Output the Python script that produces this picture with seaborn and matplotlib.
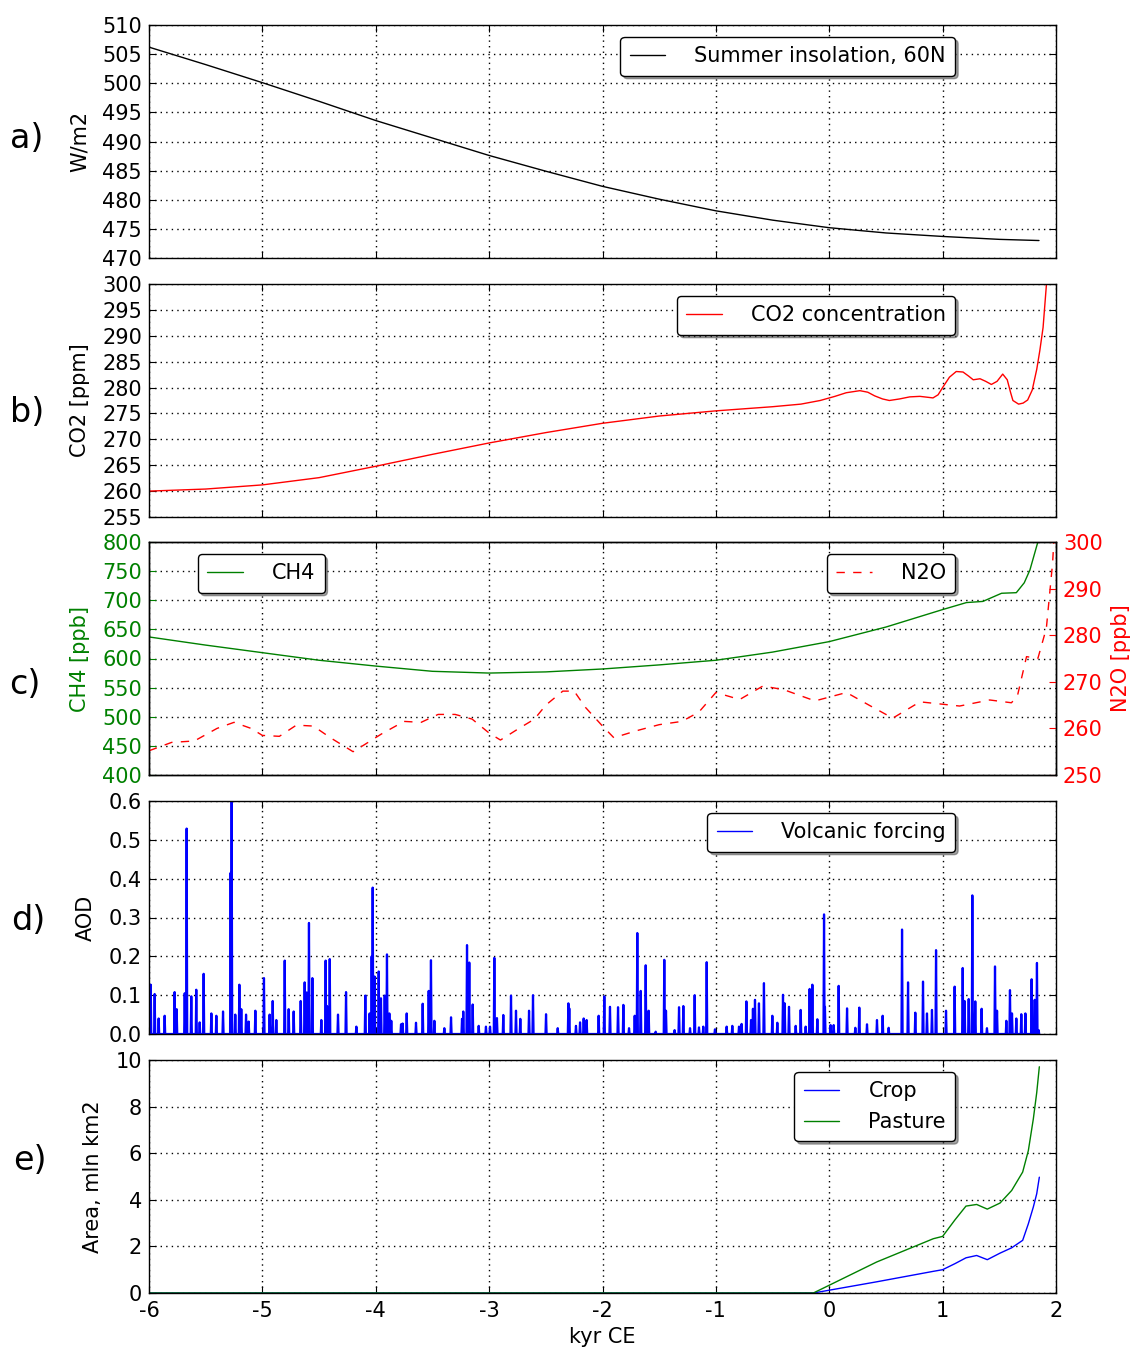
import pandas as pd
import matplotlib.pyplot as plt
import seaborn as sns

# ---- data (kyr CE) ----
ins_kyr = [-6, -5.5, -5, -4.5, -4, -3.5, -3, -2.5, -2, -1.5, -1, -0.5, 0, 0.5, 1, 1.5, 1.85]
ins_val = [506.2, 503.2, 500.1, 496.9, 493.6, 490.6, 487.6, 484.9, 482.3, 480.1, 478.1, 476.5, 475.2, 474.3, 473.7, 473.2, 473.0]

co2_kyr = [-6, -5.5, -5, -4.5, -4, -3.5, -3, -2.5, -2, -1.5, -1, -0.5, -0.25, -0.08, 0.05, 0.15, 0.27, 0.34, 0.4,
           0.47, 0.53, 0.62, 0.71, 0.8, 0.915, 0.96, 1.0, 1.06, 1.12, 1.18, 1.23, 1.27, 1.33, 1.38, 1.43, 1.48,
           1.53, 1.57, 1.6, 1.62, 1.67, 1.71, 1.75, 1.79, 1.83, 1.857, 1.886, 1.916, 1.95]
co2_val = [260.0, 260.4, 261.2, 262.6, 264.8, 267.1, 269.3, 271.3, 273.1, 274.5, 275.5, 276.3, 276.8, 277.5, 278.3, 279.0, 279.4, 279.1, 278.4,
           277.8, 277.5, 277.8, 278.2, 278.3, 278.0, 278.6, 280.0, 282.0, 283.1, 283.0, 282.2, 281.5, 281.7, 281.2, 280.6, 281.2,
           282.6, 281.5, 279.0, 277.5, 276.8, 277.0, 277.6, 279.5, 283.5, 287.1, 291.6, 300.0, 312.0]

ch4_kyr = [-6, -5.5, -5, -4.5, -4, -3.5, -3, -2.5, -2, -1.5, -1, -0.5, 0, 0.5, 1, 1.21, 1.355, 1.52, 1.65, 1.72, 1.77, 1.84, 1.9]
ch4_val = [637, 623, 610, 597, 587, 578, 575, 577, 582, 589, 597, 611, 629, 654, 684, 696, 698, 712, 713, 730, 752, 800, 880]

n2o_kyr = [-6, -5.8, -5.6, -5.4, -5.25, -5.1, -5.0, -4.85, -4.7, -4.55, -4.4, -4.3, -4.2, -4.1, -3.95, -3.75, -3.6,
           -3.45, -3.3, -3.15, -3.0, -2.9, -2.75, -2.6, -2.5, -2.35, -2.25, -2.15, -2.0, -1.9, -1.7, -1.5, -1.3,
           -1.15, -1.0, -0.79, -0.585, -0.4, -0.126, 0.152, 0.35, 0.56, 0.8, 1.15, 1.415, 1.607, 1.66, 1.74, 1.84,
           1.915, 1.97, 1.99]
n2o_val = [255.2, 257.0, 257.3, 260.0, 261.3, 260.0, 258.5, 258.3, 260.7, 260.5, 258.0, 256.5, 255.0, 256.5, 258.8, 261.5, 261.3,
           263.0, 263.0, 262.0, 259.0, 257.5, 259.8, 262.0, 265.0, 268.0, 268.0, 264.5, 260.5, 258.0, 259.5, 260.8, 261.5,
           263.5, 267.7, 266.2, 269.1, 268.3, 265.9, 267.7, 265.0, 262.2, 265.7, 264.8, 266.1, 265.5, 267.0, 275.4, 275.0,
           281.5, 295.5, 304.0]

volc_kyr = [-5.985, -5.95, -5.915, -5.862, -5.774, -5.756, -5.685, -5.668, -5.627, -5.583, -5.553, -5.518, -5.45, -5.406,
            -5.347, -5.28, -5.271, -5.239, -5.203, -5.186, -5.144, -5.121, -5.062, -4.986, -4.936, -4.909, -4.877, -4.803,
            -4.768, -4.724, -4.662, -4.627, -4.609, -4.589, -4.559, -4.48, -4.442, -4.43, -4.406, -4.333, -4.262, -4.171,
            -4.092, -4.054, -4.036, -4.027, -4.01, -3.974, -3.954, -3.921, -3.901, -3.88, -3.863, -3.777, -3.763, -3.727,
            -3.645, -3.586, -3.533, -3.513, -3.483, -3.395, -3.336, -3.239, -3.228, -3.195, -3.175, -3.145, -3.092, -3.028,
            -2.992, -2.954, -2.931, -2.875, -2.807, -2.763, -2.725, -2.648, -2.613, -2.498, -2.395, -2.301, -2.293, -2.234,
            -2.198, -2.166, -2.14, -2.034, -1.984, -1.934, -1.863, -1.816, -1.766, -1.716, -1.693, -1.663, -1.619, -1.593,
            -1.531, -1.455, -1.44, -1.364, -1.325, -1.287, -1.228, -1.187, -1.149, -1.111, -1.081, -1.008, -0.905, -0.855,
            -0.796, -0.773, -0.731, -0.69, -0.673, -0.655, -0.62, -0.576, -0.502, -0.458, -0.408, -0.393, -0.355, -0.296,
            -0.252, -0.208, -0.173, -0.149, -0.105, -0.046, -0.038, 0.012, 0.039, 0.083, 0.157, 0.23, 0.265, 0.333, 0.421,
            0.471, 0.524, 0.642, 0.695, 0.759, 0.827, 0.862, 0.906, 0.942, 1.03, 1.106, 1.177, 1.194, 1.23, 1.262, 1.288,
            1.344, 1.391, 1.462, 1.48, 1.562, 1.594, 1.612, 1.65, 1.694, 1.73, 1.785, 1.812, 1.832, 1.847]
volc_aod = [0.127, 0.103, 0.04, 0.047, 0.108, 0.064, 0.105, 0.529, 0.097, 0.114, 0.03, 0.155, 0.053, 0.047,
            0.058, 0.415, 0.598, 0.05, 0.127, 0.064, 0.05, 0.032, 0.06, 0.144, 0.05, 0.085, 0.036, 0.189,
            0.064, 0.058, 0.085, 0.133, 0.107, 0.286, 0.144, 0.036, 0.189, 0.072, 0.193, 0.05, 0.108, 0.019,
            0.099, 0.053, 0.2, 0.377, 0.148, 0.161, 0.092, 0.099, 0.205, 0.053, 0.034, 0.025, 0.027, 0.053,
            0.029, 0.078, 0.111, 0.19, 0.034, 0.015, 0.043, 0.039, 0.058, 0.229, 0.184, 0.076, 0.021, 0.019,
            0.019, 0.196, 0.041, 0.049, 0.099, 0.06, 0.039, 0.06, 0.1, 0.051, 0.015, 0.079, 0.066, 0.021,
            0.03, 0.04, 0.036, 0.047, 0.097, 0.07, 0.069, 0.075, 0.015, 0.047, 0.26, 0.111, 0.177, 0.06,
            0.006, 0.191, 0.06, 0.01, 0.069, 0.072, 0.015, 0.1, 0.017, 0.019, 0.185, 0.012, 0.019, 0.021,
            0.019, 0.026, 0.084, 0.036, 0.065, 0.088, 0.079, 0.131, 0.047, 0.029, 0.101, 0.079, 0.07, 0.021,
            0.062, 0.019, 0.116, 0.127, 0.038, 0.308, 0.07, 0.023, 0.023, 0.124, 0.066, 0.016, 0.068, 0.025, 0.036,
            0.047, 0.016, 0.269, 0.133, 0.055, 0.135, 0.053, 0.062, 0.216, 0.06, 0.122, 0.17, 0.085, 0.09, 0.357, 0.084,
            0.065, 0.015, 0.174, 0.06, 0.034, 0.113, 0.053, 0.04, 0.051, 0.053, 0.141, 0.088, 0.183, 0.01]

land_kyr = [-6, -0.14, 0.418, 0.918, 1.0, 1.109, 1.206, 1.3, 1.394, 1.506, 1.609, 1.706, 1.756, 1.8, 1.83, 1.853]
crop_val = [0, 0, 0.48, 0.93, 1.0, 1.26, 1.51, 1.61, 1.43, 1.71, 1.94, 2.26, 2.97, 3.69, 4.26, 4.97]
past_val = [0, 0, 1.33, 2.33, 2.43, 3.14, 3.73, 3.8, 3.6, 3.86, 4.4, 5.19, 6.11, 7.47, 8.6, 9.71]

# ---- style ----
sns.set_style('ticks')
plt.rcParams.update({
    'font.family': ['DejaVu Sans'],
    'font.size': 15,
    'text.color': 'black',
    'axes.labelcolor': 'black',
    'axes.unicode_minus': False,
    'axes.linewidth': 1.0,
    'axes.edgecolor': 'black',
    'xtick.direction': 'in', 'ytick.direction': 'in',
    'xtick.top': True, 'ytick.right': True,
    'xtick.major.size': 5, 'ytick.major.size': 5,
    'xtick.major.pad': 6, 'ytick.major.pad': 5,
    'xtick.labelsize': 15, 'ytick.labelsize': 15,
    'xtick.color': 'black', 'ytick.color': 'black',
    'grid.color': 'black', 'grid.linestyle': (0, (1, 3)), 'grid.linewidth': 1.0, 'grid.alpha': 1.0,
    'legend.fontsize': 15,
})

fig = plt.figure(figsize=(11.37, 13.52), dpi=100)
W, H = 1137, 1352
left, width = 149 / W, 907 / W
tops = [25, 284, 542, 801, 1060]
axes = []
for t in tops:
    a = fig.add_axes([left, 1 - (t + 233) / H, width, 233 / H])
    axes.append(a)
ax_a, ax_b, ax_c, ax_d, ax_e = axes


def style_legend(ax, loc, anchor):
    leg = ax.legend(loc=loc, bbox_to_anchor=anchor, borderaxespad=0, fancybox=True, shadow=True,
                    framealpha=1, edgecolor='black', handlelength=1.7, handletextpad=1.4, borderpad=0.45)
    leg.get_frame().set_linewidth(1.0)
    return leg


# a) insolation
sns.lineplot(x=ins_kyr, y=ins_val, ax=ax_a, color='black', lw=1.0, label='Summer insolation, 60N')
ax_a.set_ylim(470, 510)
ax_a.set_yticks(range(470, 511, 5))
ax_a.set_ylabel('W/m2', labelpad=9)
style_legend(ax_a, 'upper right', (0.889, 0.948))

# b) CO2
sns.lineplot(x=co2_kyr, y=co2_val, ax=ax_b, color='red', lw=1.0, label='CO2 concentration')
ax_b.set_ylim(255, 300)
ax_b.set_yticks(range(255, 301, 5))
ax_b.set_ylabel('CO2 [ppm]', labelpad=9)
style_legend(ax_b, 'upper right', (0.889, 0.948))

# c) CH4 and N2O
sns.lineplot(x=ch4_kyr, y=ch4_val, ax=ax_c, color='green', lw=1.0, label='CH4')
ax_c.set_ylim(400, 800)
ax_c.set_yticks(range(400, 801, 50))
ax_c.set_ylabel('CH4 [ppb]', color='green', labelpad=9)
ax_c.tick_params(axis='y', colors='green', right=False)
style_legend(ax_c, 'upper left', (0.054, 0.948))
ax_c2 = ax_c.twinx()
sns.lineplot(x=n2o_kyr, y=n2o_val, ax=ax_c2, color='red', lw=1.0, linestyle=(0, (6, 6)), label='N2O')
ax_c2.set_ylim(250, 300)
ax_c2.set_yticks(range(250, 301, 10))
ax_c2.set_ylabel('N2O [ppb]', color='red', labelpad=6)
ax_c2.tick_params(axis='y', colors='red', direction='in', length=5, labelsize=15, pad=5)
ax_c2.grid(False)
style_legend(ax_c2, 'upper right', (0.889, 0.948))

# d) volcanic forcing: each eruption drawn as a narrow spike
hw = 0.005
rows = [(-6.0, 0.0)]
for k, v in zip(volc_kyr, volc_aod):
    rows += [(k - hw, 0.0), (k, v), (k + hw, 0.0)]
rows.append((1.85, 0.0))
volc_df = pd.DataFrame(rows, columns=['kyr', 'aod'])
sns.lineplot(data=volc_df, x='kyr', y='aod', ax=ax_d, color='blue', lw=1.6, sort=False,
             estimator=None, label='Volcanic forcing')
ax_d.set_ylim(0, 0.6)
ax_d.set_yticks([0, 0.1, 0.2, 0.3, 0.4, 0.5, 0.6])
ax_d.set_yticklabels(['0.0', '0.1', '0.2', '0.3', '0.4', '0.5', '0.6'])
ax_d.set_ylabel('AOD', labelpad=9)
leg_d = style_legend(ax_d, 'upper right', (0.889, 0.948))
for h in leg_d.get_lines():
    h.set_linewidth(1.0)

# e) land use
sns.lineplot(x=land_kyr, y=crop_val, ax=ax_e, color='blue', lw=1.0, label='Crop')
sns.lineplot(x=land_kyr, y=past_val, ax=ax_e, color='green', lw=1.0, label='Pasture')
ax_e.set_ylim(0, 10)
ax_e.set_yticks(range(0, 11, 2))
ax_e.set_ylabel('Area, mln km2', labelpad=9)
style_legend(ax_e, 'upper right', (0.889, 0.948))

for a in axes:
    a.set_xlim(-6, 2)
    a.set_xticks(range(-6, 3))
    a.grid(True)
    a.set_xlabel('')
    for s in a.spines.values():
        s.set_visible(True)
for a in axes[:-1]:
    a.tick_params(axis='x', labelbottom=False)
ax_e.set_xlabel('kyr CE', fontsize=15, labelpad=4)

# panel letters
for lab, ypx, xpx in [('a)', 138, 27), ('b)', 412, 27), ('c)', 685, 25), ('d)', 920, 28), ('e)', 1160, 30)]:
    fig.text(xpx / W, 1 - ypx / H, lab, fontsize=24, ha='center', va='center')

fig.savefig('out.png', dpi=100)
